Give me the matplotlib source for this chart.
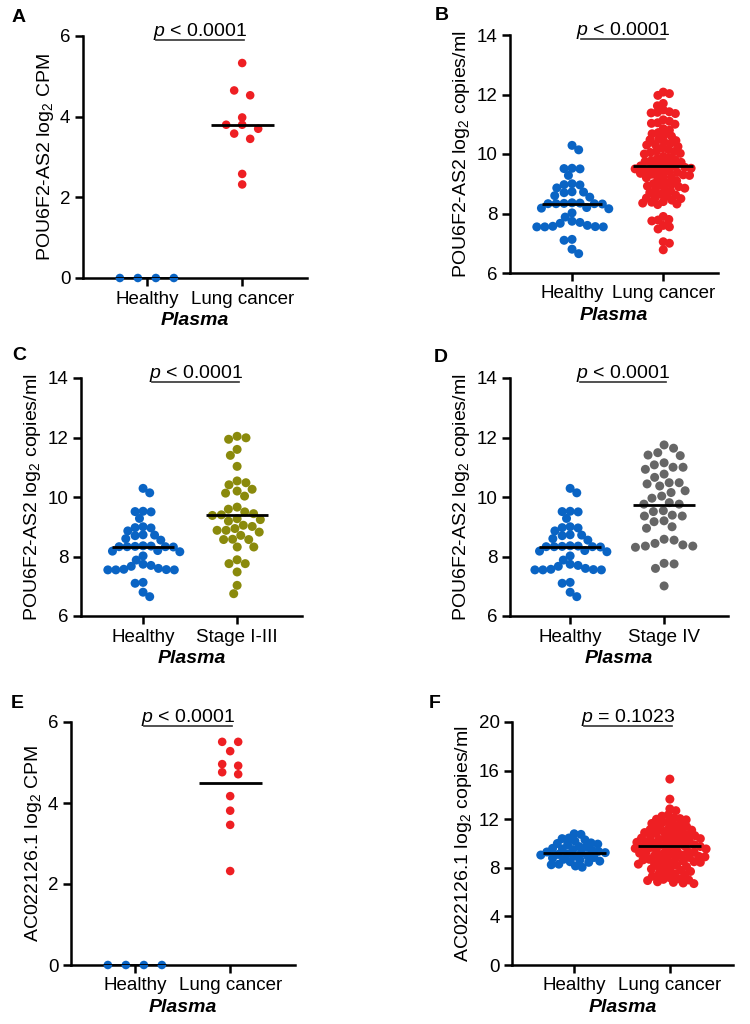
import numpy as np
import matplotlib
matplotlib.use('Agg')
import matplotlib.pyplot as plt
import matplotlib.transforms as mtransforms

plt.rcParams['font.family'] = ['Liberation Sans', 'DejaVu Sans']
plt.rcParams['mathtext.fontset'] = 'custom'
plt.rcParams['mathtext.rm'] = 'Liberation Sans'
plt.rcParams['mathtext.it'] = 'Liberation Sans:italic'
plt.rcParams['mathtext.bf'] = 'Liberation Sans:bold'

# ---- data ----
a_healthy = [0, 0, 0, 0]
a_cancer = [5.33, 4.65, 4.53, 3.98, 3.80, 3.80, 3.70, 3.58, 3.45, 2.58, 2.32]

# healthy plasma (same set in B, C, D)
healthy_pou = [10.29, 10.14, 9.51, 9.50, 9.52, 9.28, 8.97, 9.00, 8.96, 8.86,
               8.73, 8.72, 8.70, 8.60, 8.55, 8.35, 8.33, 8.33, 8.34, 8.32,
               8.36, 8.33, 8.18, 8.20, 8.16, 8.02, 7.88, 7.74, 7.70, 7.57,
               7.56, 7.55, 7.55, 7.55, 7.60, 7.67, 7.13, 7.10, 6.80, 6.65]

b_cancer = [12.08, 12.03, 11.97, 11.70, 11.62,
            11.48, 11.42, 11.40, 11.38, 11.36,
            11.15, 11.10, 11.05, 11.03, 11.00,
            10.85, 10.80, 10.72, 10.68, 10.62, 10.60,
            10.50, 10.48, 10.45, 10.40, 10.35, 10.32, 10.30, 10.25,
            10.20, 10.15, 10.10, 10.08, 10.05, 10.02, 10.00,
            9.92, 9.88, 9.85, 9.80, 9.78, 9.75, 9.72, 9.70,
            9.65, 9.62, 9.60, 9.58, 9.56, 9.55, 9.52, 9.50, 9.48, 9.45, 9.42, 9.40,
            9.38, 9.35, 9.32, 9.30, 9.28, 9.25, 9.22, 9.20, 9.15, 9.10,
            9.05, 9.00, 8.98, 8.95, 8.92, 8.90, 8.85, 8.82, 8.80,
            8.75, 8.70, 8.65, 8.62, 8.58, 8.55, 8.52, 8.50,
            8.45, 8.40, 8.38, 8.35, 8.32, 8.30,
            7.90, 7.80, 7.78, 7.75, 7.60, 7.55, 7.48,
            7.05, 7.00, 6.78]

c_stage13 = [12.04, 11.99, 11.94, 11.60, 11.40, 11.03, 10.54, 10.48, 10.41, 10.26,
             10.13, 10.20, 10.03, 9.66, 9.59, 9.44, 9.50, 9.24, 9.27, 9.38,
             9.40, 9.19, 9.05, 8.94, 8.82, 9.01, 8.88, 8.88, 8.57, 8.71,
             8.57, 8.58, 8.32, 8.32, 7.89, 7.76, 7.76, 7.48, 7.03, 6.75]

d_stage4 = [11.75, 11.64, 11.49, 11.41, 11.39, 11.08, 11.15, 10.93, 11.00, 11.00,
            10.77, 10.66, 10.48, 10.48, 10.44, 10.37, 10.21, 10.15, 9.96, 10.03,
            9.76, 9.76, 9.81, 9.54, 9.51, 9.36, 9.36, 9.39, 9.17, 9.20,
            9.00, 8.95, 8.55, 8.58, 8.35, 8.31, 8.35, 8.39, 8.44, 7.75,
            7.60, 7.77, 7.01]

e_healthy = [0, 0, 0, 0]
e_cancer = [5.51, 5.51, 5.28, 4.96, 4.92, 4.76, 4.71, 4.17, 3.81, 3.46, 2.32]

f_healthy = [10.80, 10.75, 10.45, 10.40, 10.30, 10.20, 10.05, 10.00, 9.95, 9.90,
             9.75, 9.70, 9.60, 9.55, 9.50, 9.45, 9.35, 9.30, 9.25, 9.22,
             9.15, 9.10, 9.05, 9.00, 8.95, 8.85, 8.80, 8.70, 8.65, 8.55,
             8.50, 8.45, 8.30, 8.25, 8.15, 8.05]

f_cancer = [15.30, 13.65, 12.85, 12.70,
            12.35, 12.25, 12.10, 12.05, 12.00, 11.95,
            11.80, 11.70, 11.65, 11.55, 11.50, 11.40, 11.35,
            11.25, 11.15, 11.10, 11.05, 11.00, 10.95, 10.90, 10.85,
            10.75, 10.70, 10.65, 10.60, 10.55, 10.50, 10.45, 10.40, 10.35,
            10.30, 10.25, 10.20, 10.15, 10.10, 10.05, 10.00, 9.95, 9.90,
            9.85, 9.80, 9.78, 9.75, 9.70, 9.65, 9.60, 9.55, 9.50,
            9.45, 9.40, 9.35, 9.30, 9.25, 9.20, 9.15, 9.10,
            9.05, 9.00, 8.95, 8.90, 8.85, 8.80, 8.75, 8.70,
            8.65, 8.60, 8.55, 8.50, 8.45, 8.40, 8.35, 8.30,
            8.25, 8.20, 8.10, 8.00, 7.90, 7.85, 7.80,
            7.70, 7.60, 7.50, 7.45, 7.40, 7.30,
            7.20, 7.10, 7.05, 7.00, 6.95, 6.85, 6.80, 6.75, 6.70]

# centre lines drawn in the figure
a_lines = [0, 3.80]
b_lines = [8.33, 9.58]
c_lines = [8.33, 9.41]
d_lines = [8.33, 9.73]
e_lines = [0, 4.50]
f_lines = [9.24, 9.79]

p_texts = ['< 0.0001', '< 0.0001', '< 0.0001', '< 0.0001', '< 0.0001', '= 0.1023']

BLUE = '#0a64c4'
RED = '#ee1f23'
OLIVE = '#8a8a0c'
GREY = '#666666'

W, H = 750, 1024
fig = plt.figure(figsize=(W / 100, H / 100), dpi=100)


def to_pixels(ax, center, vals):
    pix = ax.transData.transform(np.column_stack([np.full(len(vals), center), vals]))
    ppu = ax.transData.transform((1, 0))[0] - ax.transData.transform((0, 0))[0]
    return pix[:, 1], ppu


def swarm(ax, center, vals, gap):
    # simple beeswarm in pixel space, balanced left/right
    vals = np.asarray(vals, dtype=float)
    py, ppu = to_pixels(ax, center, vals)
    order = np.argsort(-py)
    px_placed, py_placed = [], []
    out = np.zeros(len(vals))
    for i in order:
        y = py[i]
        cands = [0.0]
        for qx, qy in zip(px_placed, py_placed):
            dy = abs(y - qy)
            if dy < gap:
                dx = np.sqrt(gap ** 2 - dy ** 2)
                cands += [qx + dx, qx - dx]
        side = np.sign(sum(px_placed)) if px_placed else 1.0
        cands.sort(key=lambda c: (round(abs(c), 2), c * side))
        for c in cands:
            if all((c - qx) ** 2 + (y - qy) ** 2 >= gap ** 2 - 1e-6
                   for qx, qy in zip(px_placed, py_placed)):
                break
        px_placed.append(c)
        py_placed.append(y)
        out[i] = c
    return center + out / ppu


def rows(ax, center, vals, gap, thr=5.5):
    # Prism-style: near-equal values share a row, spread symmetrically
    vals = np.asarray(vals, dtype=float)
    py, ppu = to_pixels(ax, center, vals)
    order = np.argsort(-py)
    out = np.zeros(len(vals))
    group = [order[0]]
    groups = []
    for i in order[1:]:
        if abs(py[i] - py[group[0]]) <= thr:
            group.append(i)
        else:
            groups.append(group)
            group = [i]
    groups.append(group)
    for g in groups:
        n = len(g)
        for j, i in enumerate(g):
            out[i] = (j - (n - 1) / 2) * gap
    return center + out / ppu


panels = [
    dict(letter='A', box=(83, 36, 307, 278), lpos=(19, 17), xlim=(-0.67, 1.68),
         ylim=(0, 6), yticks=[0, 2, 4, 6], ylabel='POU6F2-AS2 log$_2$ CPM',
         groups=[a_healthy, a_cancer], colors=[BLUE, RED], lines=a_lines,
         names=['Healthy', 'Lung cancer'], gaps=[18, 16], mode='rows', ms=38),
    dict(letter='B', box=(510, 35, 718, 273), lpos=(442, 16), xlim=(-0.68, 1.60),
         ylim=(6, 14), yticks=[6, 8, 10, 12, 14], ylabel='POU6F2-AS2 log$_2$ copies/ml',
         groups=[healthy_pou, b_cancer], colors=[BLUE, RED], lines=b_lines,
         names=['Healthy', 'Lung cancer'], gaps=[8.0, 6.3], mode='swarm', ms=42),
    dict(letter='C', box=(81, 378, 302, 616), lpos=(19, 356), xlim=(-0.66, 1.69),
         ylim=(6, 14), yticks=[6, 8, 10, 12, 14], ylabel='POU6F2-AS2 log$_2$ copies/ml',
         groups=[healthy_pou, c_stage13], colors=[BLUE, OLIVE], lines=c_lines,
         names=['Healthy', 'Stage I-III'], gaps=[8.0, 9.0], mode='swarm', ms=42),
    dict(letter='D', box=(510, 378, 728, 616), lpos=(441, 357), xlim=(-0.64, 1.68),
         ylim=(6, 14), yticks=[6, 8, 10, 12, 14], ylabel='POU6F2-AS2 log$_2$ copies/ml',
         groups=[healthy_pou, d_stage4], colors=[BLUE, GREY], lines=d_lines,
         names=['Healthy', 'Stage IV'], gaps=[8.0, 10.0], mode='swarm', ms=42),
    dict(letter='E', box=(71, 722, 295, 965), lpos=(17, 703), xlim=(-0.67, 1.68),
         ylim=(0, 6), yticks=[0, 2, 4, 6], ylabel='AC022126.1 log$_2$ CPM',
         groups=[e_healthy, e_cancer], colors=[BLUE, RED], lines=e_lines,
         names=['Healthy', 'Lung cancer'], gaps=[18, 16], mode='rows', ms=38),
    dict(letter='F', box=(512, 722, 733, 965), lpos=(435, 703), xlim=(-0.65, 1.66),
         ylim=(0, 20), yticks=[0, 4, 8, 12, 16, 20], ylabel='AC022126.1 log$_2$ copies/ml',
         groups=[f_healthy, f_cancer], colors=[BLUE, RED], lines=f_lines,
         names=['Healthy', 'Lung cancer'], gaps=[6.8, 6.3], mode='swarm', ms=42),
]

for p, ptxt in zip(panels, p_texts):
    l, t, r, b = p['box']
    ax = fig.add_axes([l / W, 1 - b / H, (r - l) / W, (b - t) / H])
    ax.set_xlim(*p['xlim'])
    ax.set_ylim(*p['ylim'])
    for s in ['top', 'right']:
        ax.spines[s].set_visible(False)
    for s in ['left', 'bottom']:
        ax.spines[s].set_linewidth(1.8)
    ax.tick_params(width=1.8, length=6, labelsize=13.5, pad=3)
    ax.set_yticks(p['yticks'])
    ax.set_xticks([0, 1])
    ax.set_xticklabels(p['names'])
    ax.set_ylabel(p['ylabel'], fontsize=14, labelpad=3)
    ax.set_xlabel('Plasma', fontsize=14, fontweight='bold', style='italic', labelpad=3)

    layout = rows if p['mode'] == 'rows' else swarm
    for k, (vals, col) in enumerate(zip(p['groups'], p['colors'])):
        xs = layout(ax, k, vals, p['gaps'][k])
        ax.scatter(xs, vals, s=p['ms'], color=col, edgecolors='none',
                   clip_on=False, zorder=3)
        ax.plot([k - 0.33, k + 0.33], [p['lines'][k]] * 2, color='black',
                lw=2.0, solid_capstyle='butt', zorder=4)

    trans = mtransforms.blended_transform_factory(ax.transData, ax.transAxes)
    ax.plot([0.1, 1.02], [0.985, 0.985], color='#333333', lw=1.2,
            transform=trans, clip_on=False)
    ax.text(0.56, 0.998, r'$\mathit{p}$ ' + ptxt, transform=trans, ha='center',
            va='baseline', fontsize=14)

    fig.text(p['lpos'][0] / W, 1 - p['lpos'][1] / H, p['letter'], fontsize=14,
             fontweight='bold', ha='center', va='center')

fig.savefig('out.png', dpi=100)
